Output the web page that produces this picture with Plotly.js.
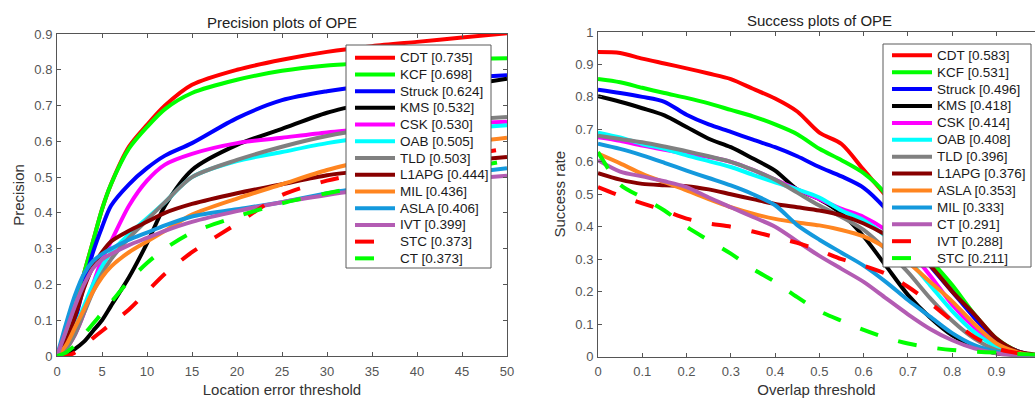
<!DOCTYPE html>
<html>
<head>
<meta charset="utf-8">
<script src="https://cdn.plot.ly/plotly-3.0.1.min.js"></script>
<style>html,body{margin:0;padding:0;background:#fff;}#chart{width:1035px;height:398px;}</style>
</head>
<body>
<div id="chart"></div>
<script>
// ---------- Precision plot data ----------
const precX = [0,1,2,3,4,5,6,8,10,12,15,20,25,30,35,40,45,50];
const precCDT   = [0,0.05,0.13,0.23,0.32,0.41,0.48,0.585,0.646,0.70,0.758,0.80,0.828,0.85,0.866,0.878,0.89,0.902];
const precKCF   = [0,0.05,0.13,0.23,0.32,0.41,0.48,0.58,0.64,0.69,0.735,0.772,0.797,0.812,0.82,0.826,0.83,0.832];
const precStruck= [0,0.04,0.1,0.2,0.29,0.36,0.42,0.48,0.525,0.56,0.595,0.665,0.715,0.74,0.757,0.77,0.778,0.785];
const precKMS   = [0,0.005,0.02,0.04,0.07,0.10,0.14,0.22,0.315,0.42,0.52,0.59,0.635,0.68,0.71,0.735,0.755,0.775];
const precCSK   = [0,0.02,0.06,0.12,0.2,0.27,0.32,0.42,0.49,0.535,0.565,0.595,0.61,0.625,0.635,0.643,0.65,0.655];
const precOAB   = [0,0.03,0.08,0.14,0.2,0.25,0.29,0.34,0.385,0.43,0.5,0.545,0.57,0.595,0.612,0.625,0.636,0.645];
const precTLD   = [0,0.02,0.06,0.12,0.18,0.23,0.27,0.33,0.38,0.43,0.5,0.548,0.585,0.615,0.635,0.65,0.66,0.668];
const precL1APG = [0,0.04,0.11,0.19,0.25,0.29,0.32,0.35,0.375,0.4,0.425,0.455,0.48,0.505,0.52,0.533,0.545,0.556];
const precMIL   = [0,0.03,0.08,0.13,0.18,0.22,0.25,0.29,0.32,0.35,0.395,0.44,0.48,0.52,0.55,0.575,0.595,0.61];
const precASLA  = [0,0.09,0.17,0.23,0.265,0.285,0.3,0.325,0.345,0.365,0.39,0.41,0.43,0.455,0.475,0.495,0.51,0.525];
const precIVT   = [0,0.07,0.14,0.2,0.245,0.27,0.285,0.31,0.33,0.35,0.375,0.405,0.43,0.45,0.468,0.482,0.494,0.504];
const precSTC   = [0,0,0.01,0.03,0.05,0.07,0.09,0.13,0.18,0.23,0.29,0.37,0.45,0.49,0.515,0.54,0.56,0.58];
const precCT    = [0,0.01,0.03,0.06,0.09,0.12,0.15,0.21,0.26,0.3,0.345,0.39,0.427,0.455,0.478,0.5,0.523,0.546];

const precNames  = ["CDT","KCF","Struck","KMS","CSK","OAB","TLD","L1APG","MIL","ASLA","IVT","STC","CT"];
const precScores = ["0.735","0.698","0.624","0.532","0.530","0.505","0.503","0.444","0.436","0.406","0.399","0.373","0.373"];
const precSeries = [precCDT,precKCF,precStruck,precKMS,precCSK,precOAB,precTLD,precL1APG,precMIL,precASLA,precIVT,precSTC,precCT];

// ---------- Success plot data ----------
const succX = [0,0.05,0.1,0.15,0.2,0.25,0.3,0.35,0.4,0.45,0.5,0.55,0.6,0.65,0.7,0.75,0.8,0.85,0.9,0.95,1.0];
const succCDT   = [0.938,0.935,0.918,0.903,0.888,0.872,0.855,0.825,0.795,0.755,0.69,0.655,0.575,0.495,0.40,0.30,0.21,0.12,0.05,0.015,0];
const succKCF   = [0.855,0.845,0.828,0.812,0.797,0.78,0.76,0.74,0.715,0.685,0.64,0.605,0.565,0.5,0.39,0.3,0.22,0.13,0.055,0.015,0];
const succStruck= [0.822,0.812,0.8,0.785,0.745,0.715,0.692,0.668,0.645,0.617,0.584,0.555,0.52,0.455,0.37,0.28,0.2,0.12,0.05,0.015,0];
const succKMS   = [0.802,0.785,0.765,0.743,0.707,0.671,0.645,0.61,0.573,0.515,0.485,0.44,0.37,0.28,0.19,0.12,0.065,0.03,0.01,0.003,0];
const succCSK   = [0.676,0.665,0.65,0.637,0.625,0.615,0.6,0.575,0.545,0.515,0.485,0.455,0.43,0.39,0.33,0.25,0.16,0.09,0.035,0.01,0];
const succOAB   = [0.69,0.675,0.655,0.64,0.62,0.602,0.584,0.56,0.537,0.515,0.49,0.45,0.42,0.37,0.3,0.22,0.14,0.075,0.03,0.008,0];
const succTLD   = [0.68,0.67,0.66,0.647,0.633,0.617,0.6,0.575,0.545,0.505,0.465,0.43,0.39,0.33,0.26,0.18,0.11,0.055,0.02,0.005,0];
const succL1APG = [0.565,0.545,0.532,0.528,0.525,0.515,0.5,0.485,0.47,0.46,0.45,0.435,0.41,0.375,0.33,0.28,0.2,0.13,0.055,0.015,0.005];
const succASLA  = [0.625,0.595,0.563,0.537,0.512,0.485,0.46,0.44,0.424,0.413,0.404,0.39,0.37,0.335,0.29,0.23,0.17,0.1,0.04,0.012,0];
const succMIL   = [0.656,0.64,0.62,0.597,0.573,0.55,0.527,0.5,0.466,0.405,0.36,0.32,0.28,0.23,0.174,0.123,0.072,0.035,0.015,0.005,0];
const succCT    = [0.605,0.57,0.555,0.54,0.522,0.49,0.46,0.43,0.4,0.355,0.31,0.27,0.23,0.18,0.13,0.085,0.05,0.025,0.01,0.003,0];
const succIVT   = [0.522,0.495,0.472,0.45,0.425,0.41,0.4,0.385,0.368,0.35,0.327,0.3,0.28,0.255,0.215,0.165,0.11,0.06,0.025,0.01,0.003];
const succSTC   = [0.63,0.53,0.49,0.45,0.4,0.358,0.317,0.27,0.23,0.183,0.14,0.11,0.082,0.058,0.04,0.028,0.02,0.015,0.012,0.008,0.005];

const succNames  = ["CDT","KCF","Struck","KMS","CSK","OAB","TLD","L1APG","ASLA","MIL","CT","IVT","STC"];
const succScores = ["0.583","0.531","0.496","0.418","0.414","0.408","0.396","0.376","0.353","0.333","0.291","0.288","0.211"];
const succSeries = [succCDT,succKCF,succStruck,succKMS,succCSK,succOAB,succTLD,succL1APG,succASLA,succMIL,succCT,succIVT,succSTC];

// ---------- styles (by legend rank) ----------
const rankColors = ["#ff0000","#00ff00","#0000ff","#000000","#ff00ff","#00ffff","#808080","#880000","#ff8520","#1499dd","#b35cb3","#ff0000","#00ff00"];
const rankDashed = [false,false,false,false,false,false,false,false,false,false,false,true,true];
const DASH = "19px,21px";

const W = 1035, H = 398;
const fx = p => p / W;
const fy = p => 1 - p / H;

const traces = [];
precSeries.forEach((ys, i) => {
  traces.push({x: precX, y: ys, xaxis: "x", yaxis: "y", type: "scatter", mode: "lines",
    name: precNames[i], showlegend: false, hoverinfo: "skip",
    line: {color: rankColors[i], width: 4, shape: "spline", smoothing: 0.8, dash: rankDashed[i] ? DASH : "solid"}});
});
succSeries.forEach((ys, i) => {
  traces.push({x: succX, y: ys, xaxis: "x2", yaxis: "y2", type: "scatter", mode: "lines",
    name: succNames[i], showlegend: false, hoverinfo: "skip",
    line: {color: rankColors[i], width: 4, shape: "spline", smoothing: 0.8, dash: rankDashed[i] ? DASH : "solid"}});
});

const FONT = "Liberation Sans, Arial, Helvetica, sans-serif";
const axisCommon = {
  showline: true, linecolor: "#555", linewidth: 1, ticks: "inside", ticklen: 4, tickcolor: "#555",
  showgrid: false, zeroline: false, tickfont: {family: FONT, size: 13, color: "#555"}, fixedrange: true
};

// manual legend boxes
const shapes = [];
const annotations = [];
function addLegend(names, scores, box, lineX0, lineX1, textX, firstY, pitch) {
  shapes.push({type: "rect", xref: "paper", yref: "paper", x0: fx(box[0]), x1: fx(box[1]), y0: fy(box[3]), y1: fy(box[2]),
    fillcolor: "#ffffff", line: {color: "#5a5a5a", width: 1}, layer: "above"});
  names.forEach((n, i) => {
    const yc = firstY + i * pitch;
    shapes.push({type: "line", xref: "paper", yref: "paper", x0: fx(lineX0), x1: fx(lineX1), y0: fy(yc), y1: fy(yc),
      line: {color: rankColors[i], width: 4, dash: rankDashed[i] ? DASH : "solid"}, layer: "above"});
    annotations.push({xref: "paper", yref: "paper", x: fx(textX), y: fy(yc), xanchor: "left", yanchor: "middle",
      showarrow: false, text: n + " [" + scores[i] + "]", font: {family: FONT, size: 13.5, color: "#1a1a1a"}});
  });
}
addLegend(precNames, precScores, [346, 491, 45, 268], 355, 395, 398, 57.7, 16.72);
addLegend(succNames, succScores, [883, 1031, 44, 267], 892, 932, 935, 55.3, 16.9);

// titles
annotations.push({xref: "paper", yref: "paper", x: fx(282), y: fy(22), xanchor: "center", yanchor: "middle", showarrow: false,
  text: "Precision plots of OPE", font: {family: FONT, size: 15, color: "#222"}});
annotations.push({xref: "paper", yref: "paper", x: fx(819), y: fy(20), xanchor: "center", yanchor: "middle", showarrow: false,
  text: "Success plots of OPE", font: {family: FONT, size: 15, color: "#222"}});

const layout = {
  width: W, height: H, margin: {l: 0, r: 0, t: 0, b: 0}, paper_bgcolor: "#fff", plot_bgcolor: "#fff",
  showlegend: false,
  xaxis: Object.assign({}, axisCommon, {domain: [fx(57), fx(507)], range: [0, 50], tickvals: [0,5,10,15,20,25,30,35,40,45,50],
    mirror: "ticks", anchor: "y", ticklabelstandoff: 3,
    title: {text: "Location error threshold", font: {family: FONT, size: 15, color: "#333"}, standoff: 6}}),
  yaxis: Object.assign({}, axisCommon, {domain: [fy(356), fy(34)], range: [0, 0.9], dtick: 0.1, tick0: 0,
    mirror: "ticks", anchor: "x", ticklabelstandoff: 1,
    title: {text: "Precision", font: {family: FONT, size: 15, color: "#333"}, standoff: 6}}),
  xaxis2: Object.assign({}, axisCommon, {domain: [fx(598), 1], range: [0, 0.987], dtick: 0.1, tick0: 0,
    mirror: "ticks", anchor: "y2", ticklabelstandoff: 3,
    title: {text: "Overlap threshold", font: {family: FONT, size: 15, color: "#333"}, standoff: 6}}),
  yaxis2: Object.assign({}, axisCommon, {domain: [fy(356.5), fy(32)], range: [0, 1], dtick: 0.1, tick0: 0,
    mirror: false, anchor: "x2", ticklabelstandoff: 1,
    title: {text: "Success rate", font: {family: FONT, size: 15, color: "#333"}, standoff: 6}}),
  shapes: shapes, annotations: annotations
};

Plotly.newPlot("chart", traces, layout, {displayModeBar: false, staticPlot: true});
</script>
</body>
</html>
